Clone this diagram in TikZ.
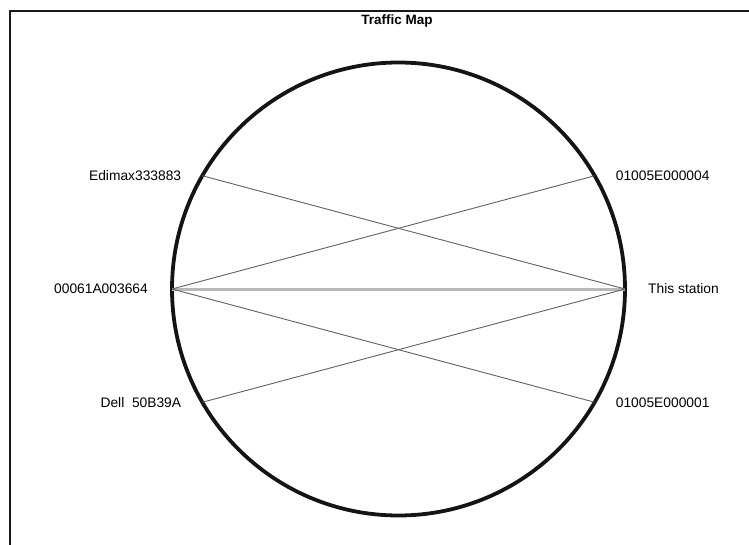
\documentclass[tikz,border=0pt]{standalone}
\usepackage{fontspec}
\setmainfont{Liberation Sans}
\usetikzlibrary{calc}
\begin{document}
\begin{tikzpicture}[x=1pt,y=-1pt,
  hostlabel/.style={inner sep=0pt,font=\fontsize{13.8}{15}\selectfont},
  titlelabel/.style={inner sep=0pt,font=\bfseries\fontsize{13.5}{15}\selectfont},
  ring/.style={line width=3.8pt,draw=black!92},
  link/.style={line width=0.9pt,draw=black!62},
  mainlink/.style={line width=3pt,draw=black!28},
  frameline/.style={line width=2.4pt,draw=black!90}]
\useasboundingbox (0,0) rectangle (749,545);
% panel frame (top and left edges only)
\coordinate (fTL) at (10,11);
\coordinate (fTR) at (749,11);
\coordinate (fBL) at (10,545);
\draw[frameline] (fBL) -- (fTL) -- (fTR);
% title
\node[titlelabel] (title) at (397,21) {Traffic Map};
% ring of stations (y axis points down, so angles run clockwise)
\coordinate (c) at (398.5,289);
\def\R{226.5}
\draw[ring] (c) circle[radius=\R];
\coordinate (edimax) at ($(c)+(-150:\R)$);
\coordinate (mcastA) at ($(c)+(-30:\R)$);
\coordinate (nic)    at ($(c)+(180:\R)$);
\coordinate (self)   at ($(c)+(0:\R)$);
\coordinate (dell)   at ($(c)+(150:\R)$);
\coordinate (mcastB) at ($(c)+(30:\R)$);
% traffic links
\draw[mainlink] (nic) -- (self);
\draw[link] (edimax) -- (self);
\draw[link] (mcastA) -- (nic);
\draw[link] (nic) -- (mcastB);
\draw[link] (dell) -- (self);
% station names
\node[hostlabel,anchor=east] (lEdimax) at ($(edimax)+(-21,0)$) {Edimax333883};
\node[hostlabel,anchor=west] (lMcastA) at ($(mcastA)+(21,0)$) {01005E000004};
\node[hostlabel,anchor=east] (lNic)    at ($(nic)+(-24,0)$) {00061A003664};
\node[hostlabel,anchor=west] (lSelf)   at ($(self)+(23,0)$) {This station};
\node[hostlabel,anchor=east] (lDell)   at ($(dell)+(-21,0)$) {Dell\ \ 50B39A};
\node[hostlabel,anchor=west] (lMcastB) at ($(mcastB)+(21,0)$) {01005E000001};
\end{tikzpicture}
\end{document}
